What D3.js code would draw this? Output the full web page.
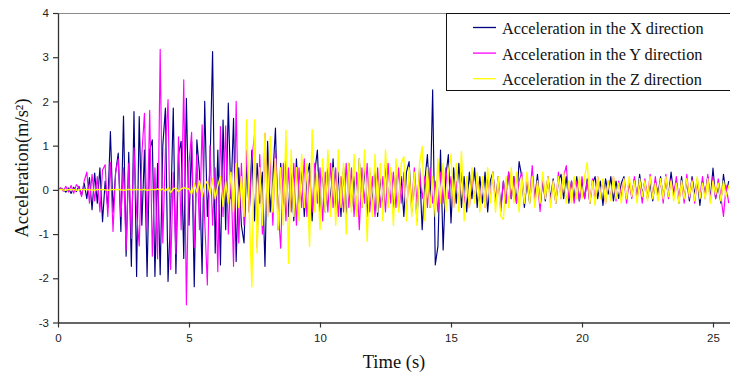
<!DOCTYPE html>
<html>
<head>
<meta charset="utf-8">
<script src="https://cdn.jsdelivr.net/npm/d3@7"></script>
<style>
  body { margin: 0; background: #fff; }
  svg { display: block; }
</style>
</head>
<body>
<div id="chart"></div>
<script>
// sampling step of the records (s)
const dt = 0.1;

// Acceleration in the X direction (m/s²), one row per second
const accX = [
  0.02, 0.03, 0.01, -0.05, 0.04, -0.08, 0.06, -0.04, 0.08, -0.12,
  0.15, -0.2, 0.28, -0.45, 0.38, -0.3, 0.5, -0.72, 0.2, -0.4,
  1.32, -0.5, 0.4, 0.83, -0.94, 1.67, -1.5, 0.85, -1.73, 1.77,
  -1.96, 1.66, -0.8, 0.9, -1.96, 0.9, 1.13, -1.96, 0.6, -1.92,
  1.0, 1.85, -2.07, -0.5, 1.85, -1.89, 0.8, 1.1, -1.55, 2.07,
  -0.8, 1.1, -2.19, 1.13, 0.4, -1.89, 2.0, -0.6, 0.5, 3.13,
  -1.43, 0.9, -1.7, 1.58, -0.9, 1.96, -0.2, 1.62, -1.62, 0.5,
  -0.8, -1.2, 0.6, -0.5, 0.9, -0.7, 0.6, -0.3, 0.4, -1.73,
  1.1, -0.5, 0.3, 1.4, -0.9, 0.6, -0.5, 0.8, -0.6, 0.5,
  -0.7, 0.7, -0.4, 0.5, -0.6, 0.3, 0.6, -0.7, 0.4, 0.9,
  -0.6, 0.5, -0.5, 0.6, -0.3, 0.7, -0.5, 0.4, -0.6, 0.5,
  -0.7, 0.6, -0.4, 0.3, -0.5, 0.7, -0.4, 0.5, -0.6, 0.4,
  -0.3, 0.5, -0.6, 0.3, -0.4, 0.6, -0.3, 0.4, -0.5, 0.5,
  -0.4, 0.3, -0.6, 0.4, 0.64, -0.5, 0.3, -0.7, 0.5, -0.9,
  0.2, 0.8, -0.4, 2.26, -1.7, -1.28, 0.9, -1.36, 0.3, 0.8,
  -0.75, 0.5, -0.3, 0.6, -0.4, 0.3, -0.5, 0.4, -0.2, 0.5,
  -0.4, 0.3, -0.3, 0.4, -0.5, 0.2, 0.4, -0.3, 0.3, -0.4,
  0.2, -0.3, 0.4, -0.2, 0.3, -0.3, 0.64, 0.3, -0.4, 0.2,
  -0.3, 0.3, -0.2, 0.35, -0.35, 0.2, -0.25, 0.3, -0.2, 0.25,
  -0.3, 0.2, 0.35, -0.2, 0.3, -0.3, 0.2, -0.2, 0.3, -0.25,
  0.2, -0.2, 0.25, -0.3, 0.15, 0.3, -0.2, 0.2, -0.35, 0.25,
  -0.1, 0.3, -0.25, 0.2, -0.2, 0.15, 0.3, -0.2, 0.2, -0.15,
  0.25, -0.2, 0.35, -0.1, 0.2, -0.2, 0.15, -0.25, 0.2, -0.1,
  0.3, -0.2, 0.25, -0.15, 0.4, -0.1, 0.2, -0.3, 0.3, -0.2,
  0.2, -0.25, 0.3, -0.1, 0.25, -0.35, 0.2, -0.1, 0.3, -0.2,
  0.49, -0.2, 0.1, -0.3, 0.35, -0.1, 0.2
];

// Acceleration in the Y direction (m/s²)
const accY = [
  0.0, 0.05, -0.03, 0.08, -0.05, 0.1, -0.08, 0.12, 0.05, -0.15,
  0.2, 0.4, -0.3, 0.35, -0.25, 0.3, -0.5, 0.45, 0.57, -0.6,
  0.62, -0.94, 0.4, 0.7, -0.6, 0.5, -1.36, 0.6, -1.1, 0.95,
  -0.5, -1.27, 0.8, 1.73, -0.9, 1.8, -1.5, 0.5, -1.56, 3.18,
  -1.2, 0.9, 2.04, -1.8, 0.4, -1.45, 1.2, -0.9, 2.49, -2.6,
  0.6, 1.3, -1.3, 0.8, -0.9, 1.47, -0.7, -2.15, 1.0, -0.8,
  0.5, -1.85, 1.43, -0.6, 1.45, -1.0, 0.4, -1.73, 2.0, -1.2,
  0.6, -0.8, 0.9, -0.5, 0.7, 1.24, -1.3, 0.8, -1.0, 1.28,
  -0.6, 0.7, -0.8, 0.9, -0.4, -1.32, 0.6, -0.7, 0.5, -0.5,
  0.6, -0.8, 0.5, -0.4, 0.7, -0.6, 0.4, -0.5, 0.6, -0.3,
  0.5, -0.7, 0.4, -0.5, 0.6, -0.4, 0.5, -0.6, 0.3, -0.5,
  0.6, -0.4, 0.5, -0.6, 0.4, -0.9, 0.5, -0.3, 0.6, -0.5,
  0.3, -0.6, 0.5, -0.4, 0.3, -0.5, 0.6, -0.3, 0.4, -0.4,
  0.5, -0.3, 0.4, -0.5, 0.3, -0.4, 0.5, -0.3, 0.4, -0.2,
  0.3, -0.4, 0.5, -0.3, 0.2, -0.5, 0.4, -0.3, 0.5, -0.2,
  0.3, -0.4, 0.2, -0.3, 0.4, -0.3, 0.2, -0.4, 0.3, -0.2,
  0.3, -0.3, 0.2, -0.4, 0.3, -0.2, 0.4, -0.3, 0.2, -0.5,
  0.2, -0.3, 0.4, -0.2, 0.3, -0.3, 0.2, 0.4, -0.3, 0.3,
  -0.2, 0.55, -0.3, 0.2, -0.49, 0.3, -0.2, 0.3, -0.3, 0.2,
  -0.3, 0.4, -0.2, 0.3, 0.55, -0.2, 0.2, -0.3, 0.2, -0.25,
  0.3, -0.2, 0.2, -0.3, 0.25, -0.25, 0.3, -0.15, 0.2, -0.3,
  0.2, -0.2, 0.3, -0.25, 0.2, -0.15, 0.25, -0.3, 0.2, -0.2,
  0.3, -0.2, 0.15, -0.3, 0.25, -0.2, 0.35, -0.15, 0.3, -0.2,
  0.2, -0.3, 0.35, -0.2, 0.25, -0.15, 0.3, -0.25, 0.2, -0.3,
  0.35, -0.2, 0.25, -0.3, 0.2, -0.15, 0.3, -0.2, 0.35, -0.25,
  0.3, -0.2, 0.25, -0.15, -0.6, 0.1, -0.3
];

// Acceleration in the Z direction (m/s²)
const accZ = [
  0.0, 0.01, 0.0, -0.01, 0.01, 0.0, 0.01, -0.01, 0.0, 0.01,
  0.0, 0.01, 0.0, 0.0, -0.01, 0.01, 0.0, 0.01, 0.0, -0.01,
  0.0, 0.01, 0.0, 0.01, 0.0, -0.01, 0.0, 0.01, 0.0, 0.0,
  0.01, 0.0, 0.0, 0.01, -0.01, 0.0, 0.01, 0.0, 0.02, -0.01,
  0.02, -0.03, 0.05, -0.06, 0.03, 0.04, -0.04, 0.02, 0.05, 0.03,
  0.02, -0.1, 0.15, -0.05, 0.2, -0.15, 0.1, 0.2, -0.1, 0.25,
  -0.2, 0.1, 0.3, -0.38, 0.2, -0.3, 0.4, -0.5, 0.6, -0.4,
  0.3, -0.6, 1.58, -0.5, -2.19, 1.58, -1.43, 0.5, -0.8, 1.28,
  -0.6, 1.2, -0.5, 0.7, -0.9, 0.5, -0.8, 1.35, -1.66, 0.9,
  -0.6, 0.5, -0.7, 0.8, -0.4, 0.6, -1.28, 1.36, -0.5, 0.4,
  -0.9, 0.7, -0.5, 0.9, -0.6, 0.5, -0.8, 0.9, -0.4, 0.6,
  -1.0, 0.6, -0.5, 0.8, -0.6, 0.7, -0.4, 0.9, -1.17, 0.5,
  -0.6, 0.8, -0.5, 0.6, -0.7, 0.9, -0.4, 0.5, -0.8, 0.7,
  -0.5, 0.6, 0.75, -0.7, 0.5, -0.6, 0.4, -0.8, 0.6, 0.98,
  -0.7, 0.5, -0.4, 0.3, -0.6, 0.7, -0.3, 0.6, -0.5, 0.4,
  0.8, -0.4, 0.6, -0.5, 0.87, -0.7, 0.3, -0.4, 0.5, -0.3,
  0.4, -0.5, 0.3, -0.4, 0.5, -0.3, 0.4, -0.5, 0.3, -0.6,
  -0.67, 0.3, -0.4, 0.5, -0.3, 0.4, -0.5, 0.3, -0.3, 0.4,
  -0.3, 0.3, -0.4, 0.2, -0.3, 0.4, -0.2, 0.3, -0.4, 0.2,
  -0.3, 0.3, -0.2, 0.4, -0.3, 0.2, -0.3, 0.3, -0.2, 0.3,
  -0.2, 0.3, 0.62, -0.3, 0.2, -0.35, 0.3, -0.2, 0.25, -0.3,
  0.2, -0.25, 0.3, -0.2, 0.15, -0.3, 0.25, -0.2, 0.3, -0.15,
  0.2, -0.3, 0.25, -0.15, 0.2, -0.25, 0.3, -0.2, 0.15, -0.25,
  0.25, -0.2, 0.3, -0.15, 0.2, -0.25, 0.15, -0.3, 0.2, -0.2,
  0.25, -0.15, 0.2, -0.25, 0.3, -0.2, 0.15, -0.2, 0.25, -0.3,
  0.2, -0.1, 0.15, -0.25, 0.2, -0.15, 0.1
];

const xTicks = [0, 5, 10, 15, 20, 25];
const yTicks = [-3, -2, -1, 0, 1, 2, 3, 4];

const series = [
  {name: "Acceleration in the X direction", values: accX, color: "#000080"},
  {name: "Acceleration in the Y direction", values: accY, color: "#ff00ff"},
  {name: "Acceleration in the Z direction", values: accZ, color: "#ffff00"}
];

const W = 730, H = 374;
const margin = {top: 13, left: 58},
    width = 700,
    height = 309.5;

const svg = d3.select("#chart").append("svg")
    .attr("width", W)
    .attr("height", H);

const g = svg.append("g")
    .attr("transform", `translate(${margin.left}, ${margin.top})`);

const x = d3.scaleLinear().domain([0, 26.5]).range([0, 26.5 * 26.2]);
const y = d3.scaleLinear().domain([-3, 4]).range([height, 0]);

g.append("clipPath").attr("id", "plot-clip")
  .append("rect").attr("width", width).attr("height", height);

// top border of the plot area
g.append("line")
    .attr("x1", 0).attr("x2", width)
    .attr("y1", 0.5).attr("y2", 0.5)
    .attr("stroke", "#8c8c8c").attr("stroke-width", 1.2);

// series
const line = d3.line()
    .x((d, i) => x(i * dt))
    .y(d => y(d));

g.append("g").attr("clip-path", "url(#plot-clip)")
  .selectAll("path")
  .data(series)
  .join("path")
    .attr("d", d => line(d.values))
    .attr("fill", "none")
    .attr("stroke", d => d.color)
    .attr("stroke-width", (d, i) => i === 2 ? 1.4 : 1.15)
    .attr("stroke-linejoin", "round");

// axes (plain hyphen for negatives, like the original)
const fmt = d => String(d);
const xAxis = g.append("g")
    .attr("transform", `translate(0, ${height})`)
    .call(d3.axisBottom(x).tickValues(xTicks).tickFormat(fmt)
      .tickSize(5).tickPadding(6).tickSizeOuter(0));
const yAxis = g.append("g")
    .call(d3.axisLeft(y).tickValues(yTicks).tickFormat(fmt)
      .tickSize(5).tickPadding(4).tickSizeOuter(0));

[xAxis, yAxis].forEach(a => {
  a.select(".domain").attr("stroke", "#333").attr("stroke-width", 1.3);
  a.selectAll(".tick line").attr("stroke", "#333").attr("stroke-width", 1.2);
  a.selectAll(".tick text")
    .attr("fill", "#222")
    .style("font-family", "'Liberation Sans', Arial, sans-serif")
    .style("font-size", "11.5px");
});

// axis titles
svg.append("text")
    .attr("x", 394).attr("y", 368)
    .attr("text-anchor", "middle")
    .style("font-family", "'Liberation Serif', 'Times New Roman', serif")
    .style("font-size", "18.5px")
    .attr("fill", "#111")
    .text("Time (s)");

svg.append("text")
    .attr("transform", "translate(27.5, 168) rotate(-90)")
    .attr("text-anchor", "middle")
    .style("font-family", "'Liberation Serif', 'Times New Roman', serif")
    .style("font-size", "18.5px")
    .attr("fill", "#111")
    .text("Acceleration(m/s²)");

// legend
const legend = svg.append("g").attr("transform", "translate(446.5, 13.5)");
legend.append("rect")
    .attr("width", 300).attr("height", 77)
    .attr("fill", "#fff")
    .attr("stroke", "#111").attr("stroke-width", 1);

const item = legend.selectAll("g.item")
  .data(series)
  .join("g")
    .attr("class", "item")
    .attr("transform", (d, i) => `translate(0, ${14 + i * 25.6})`);
item.append("line")
    .attr("x1", 26.5).attr("x2", 49.5)
    .attr("stroke", d => d.color).attr("stroke-width", 1.3);
item.append("text")
    .attr("x", 55.5).attr("y", 6.5)
    .style("font-family", "'Liberation Serif', 'Times New Roman', serif")
    .style("font-size", "16.3px")
    .attr("fill", "#111")
    .text(d => d.name);
</script>
</body>
</html>
